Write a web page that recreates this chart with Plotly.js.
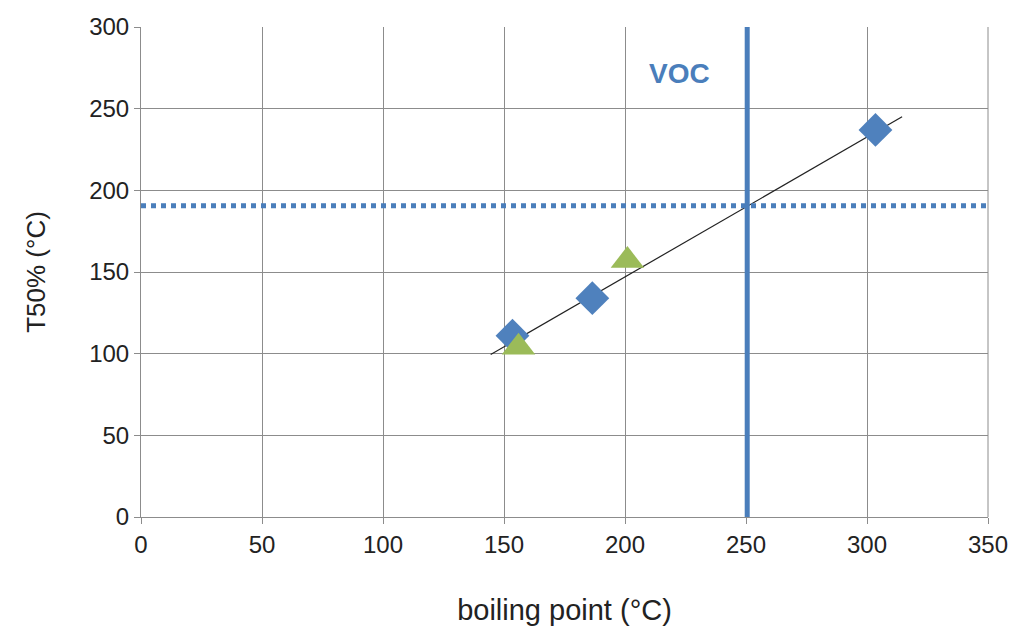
<!DOCTYPE html>
<html><head><meta charset="utf-8">
<script src="https://cdn.plot.ly/plotly-3.0.1.min.js"></script>
<style>html,body{margin:0;padding:0;background:#fff}#chart{width:1018px;height:633px}</style>
</head><body><div id="chart"></div>
<script>
const diamondX = [153.5, 186.5, 303.5];
const diamondY = [111, 134, 237];
const triangleX = [156, 201];
const triangleY = [104, 157];
const trendX = [144.5, 314.5];
const trendY = [99.5, 245];
const vocX = 250.5;
const limitY = 190.5;
const xRange = [0, 350];
const yRange = [0, 300];
const xTicks = [0, 50, 100, 150, 200, 250, 300, 350];
const yTicks = [0, 50, 100, 150, 200, 250, 300];

const blue = '#4a7ebb';
const traces = [
  {x: trendX, y: trendY, mode: 'lines', line: {color: '#222', width: 1.2}, hoverinfo: 'skip'},
  {x: [xRange[0], xRange[1]], y: [limitY, limitY], mode: 'lines', line: {color: blue, width: 5, dash: 'dot'}},
  {x: [vocX, vocX], y: [yRange[0], yRange[1]], mode: 'lines', line: {color: blue, width: 5}},
  {x: diamondX, y: diamondY, mode: 'markers', marker: {symbol: 'diamond', size: 26, color: '#4f81bd'}},
  {x: triangleX, y: triangleY, mode: 'markers', marker: {symbol: 'triangle-up', size: 29, color: '#9bbb59'}}
];
const font = "'Liberation Sans', Arial, sans-serif";
const layout = {
  width: 1018, height: 633,
  margin: {l: 141, r: 30, t: 27, b: 116},
  paper_bgcolor: '#fff', plot_bgcolor: '#fff',
  showlegend: false,
  font: {family: font, color: '#222', size: 24},
  xaxis: {range: xRange, tickvals: xTicks, showgrid: true, gridcolor: '#8c8c8c', gridwidth: 1,
    zeroline: false, showline: true, linecolor: '#8c8c8c', ticks: 'outside', ticklen: 6, tickcolor: '#8c8c8c',
    tickfont: {size: 24}, mirror: false,
    title: {text: 'boiling point (°C)', font: {size: 29}, standoff: 42}},
  yaxis: {range: yRange, tickvals: yTicks, showgrid: true, gridcolor: '#8c8c8c', gridwidth: 1,
    zeroline: false, showline: true, linecolor: '#8c8c8c', ticks: 'outside', ticklen: 6, tickcolor: '#8c8c8c',
    tickfont: {size: 24},
    title: {text: 'T50% (°C)', font: {size: 26}, standoff: 36}},
  shapes: [{type: 'line', xref: 'paper', yref: 'paper', x0: 1, x1: 1, y0: 0, y1: 1, line: {color: '#8c8c8c', width: 1}}],
  annotations: [{x: 222.5, y: 271.5, xref: 'x', yref: 'y', text: '<b>VOC</b>', showarrow: false,
    font: {size: 28, color: blue, family: font}}]
};
Plotly.newPlot('chart', traces, layout, {displayModeBar: false, staticPlot: true});
</script></body></html>
